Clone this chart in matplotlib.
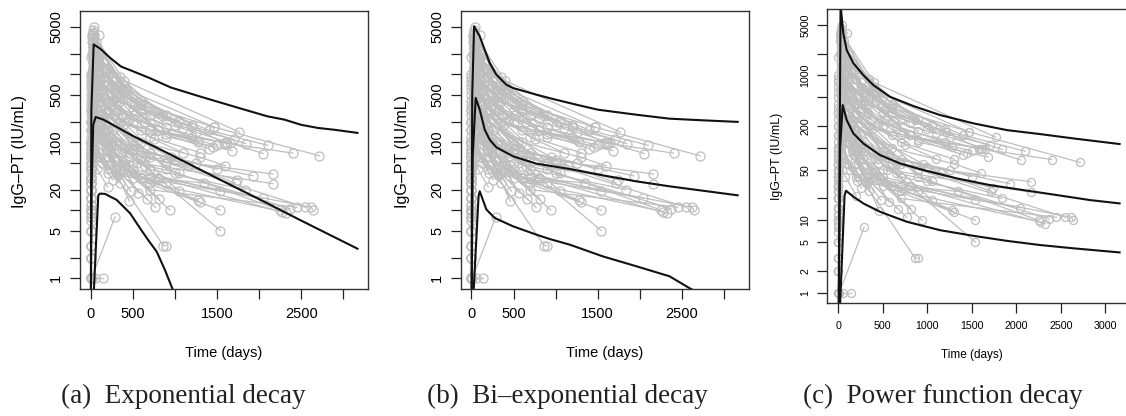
import numpy as np
import matplotlib.pyplot as plt
from matplotlib.ticker import NullLocator

plt.rcParams['font.family'] = ['Liberation Sans', 'DejaVu Sans']

# IgG-PT measurements per subject (days since vaccination, IU/mL)
subj_days = [
    [0, 30, 480, 1470, 2717], [0, 28, 350, 1600, 2400], [0, 35, 520, 1250, 2050],
    [0, 30, 600, 1842], [0, 25, 400, 1767], [0, 30, 420, 1470], [0, 32, 300, 1053],
    [0, 27, 250, 863], [0, 20, 430], [0, 45, 527], [0, 30, 500, 1208],
    [0, 30, 350, 1279], [0, 35, 380, 1620], [0, 30, 450, 1580], [0, 28, 600, 1650],
    [0, 30, 700, 2162], [0, 30, 550, 2162], [0, 30, 450, 1925], [0, 30, 700, 1834],
    [0, 30, 600, 2043], [0, 35, 500, 1720], [0, 30, 650, 1740], [0, 30, 500, 1540],
    [0, 30, 500, 1540], [0, 30, 300, 1540], [0, 30, 400, 1300], [0, 30, 600, 1280],
    [0, 30, 700, 2270], [0, 30, 800, 2320], [0, 35, 900, 2250], [0, 30, 1000, 2370],
    [0, 30, 700, 2450], [0, 30, 900, 2550], [0, 30, 800, 2620, 2640], [0, 30, 863, 895],
    [0, 12, 289], [0, 50, 143], [0, 30, 300], [0, 30, 180, 400], [0, 25, 200, 600],
    [0, 30, 250, 700], [0, 30, 300, 800], [0, 35, 220, 650, 1200], [0, 30, 330, 900, 1400],
    [0, 28, 270, 750, 1100], [0, 30, 200, 500, 1000], [0, 30, 250, 600, 1150],
    [0, 30, 150, 450, 900], [0, 30, 180, 500, 1050], [0, 30, 200, 400, 800],
    [0, 30, 220, 460], [0, 30, 240, 476], [0, 30, 280, 566], [0, 30, 300, 665],
    [0, 30, 350, 768], [0, 30, 380, 816], [0, 30, 400, 943], [0, 30, 500, 1050],
    [0, 30, 210, 700, 1350], [0, 30, 310, 900], [0, 30, 150, 600, 1400, 2100],
    [0, 20, 100, 500, 1200], [0, 40, 103], [0, 15, 60, 300], [0, 30, 1000, 1700],
    [0, 30, 800, 1500], [0, 30, 900, 1680], [0, 30, 600, 1300, 1600], [0, 30, 700, 1250],
    [0, 30, 950, 1500],
    [0, 30, 120, 350], [0, 25, 150, 400, 900], [0, 30, 100, 250, 600], [0, 30, 140, 300],
    [0, 30, 90, 200, 500], [0, 30, 110, 260], [0, 30, 130, 330, 700], [0, 30, 160, 380],
    [0, 30, 100, 220, 550], [0, 30, 120, 260, 520], [0, 30, 90, 200, 450],
    [0, 30, 140, 300, 650], [0, 30, 100, 240], [0, 30, 120, 280, 600], [0, 30, 150, 350],
    [0, 30, 100, 200], [0, 30, 130, 260], [0, 30, 110, 350, 900], [0, 30, 180, 420, 1100],
    [0, 30, 90, 300, 800], [0, 20, 70, 150], [0, 30, 60, 180], [0, 30, 100, 350],
    [0, 30, 80, 200], [0, 30, 200, 700, 1300], [0, 30, 250, 800, 1450],
]
subj_igg = [
    [40, 1500, 400, 166, 63], [80, 2500, 500, 97, 69], [20, 900, 250, 140, 68],
    [150, 3000, 300, 95], [300, 4000, 800, 141], [50, 2000, 600, 166], [10, 1200, 400, 208],
    [100, 1800, 700, 240], [200, 3800, 580], [30, 3500, 355], [60, 1000, 300, 166],
    [25, 700, 200, 102], [15, 600, 180, 97], [40, 800, 220, 97], [8, 500, 150, 97],
    [20, 400, 60, 34], [12, 300, 50, 24.5], [30, 450, 80, 32], [5, 250, 40, 20],
    [10, 150, 30, 15], [50, 600, 90, 25], [20, 350, 60, 28], [30, 300, 40, 19],
    [5, 200, 30, 10], [40, 1000, 100, 5], [15, 250, 40, 13], [20, 200, 30, 14],
    [3, 120, 25, 9.5], [10, 180, 30, 9], [20, 400, 40, 10], [30, 300, 35, 10.5],
    [15, 150, 20, 11], [40, 500, 50, 11], [25, 250, 30, 11, 10], [5, 100, 3, 3],
    [2, 1, 8], [1, 1, 1], [1, 60, 35], [100, 3000, 1200, 700], [200, 2500, 900, 300],
    [400, 2000, 700, 250], [150, 1500, 500, 150], [60, 1200, 400, 200, 120], [80, 900, 300, 130, 80],
    [30, 800, 250, 110, 70], [20, 600, 150, 80, 55], [10, 400, 100, 60, 45],
    [40, 300, 120, 70, 50], [15, 200, 80, 50, 35], [7, 150, 60, 40, 30],
    [60, 500, 60, 13.5], [25, 250, 50, 19], [50, 350, 70, 18], [20, 200, 40, 14.5],
    [30, 150, 35, 11], [10, 300, 45, 14.5], [40, 250, 40, 10], [100, 700, 80, 19],
    [2, 100, 35, 30, 25], [3, 80, 33, 25], [500, 4500, 1500, 400, 150, 90],
    [1000, 3500, 1800, 500, 180], [1800, 5000, 3800], [800, 2000, 1000, 450], [250, 2000, 180, 110],
    [60, 1200, 150, 90], [100, 900, 120, 75], [5, 400, 100, 60, 45], [2, 300, 70, 50],
    [30, 250, 60, 40],
    [300, 3500, 2000, 900], [150, 2800, 1500, 600, 250], [600, 2500, 1400, 800, 350], [50, 1800, 1100, 650],
    [20, 1500, 1000, 500, 200], [90, 1300, 800, 400], [35, 1100, 600, 300, 150], [12, 900, 450, 250],
    [45, 700, 400, 200, 100], [8, 600, 300, 150, 80], [25, 500, 250, 120, 60],
    [70, 450, 200, 90, 45], [5, 350, 150, 70], [15, 300, 120, 55, 30], [3, 250, 90, 40],
    [9, 180, 70, 40], [2, 120, 50, 28], [200, 1000, 700, 400, 170], [120, 1500, 900, 450, 160],
    [350, 2200, 1300, 600, 220], [700, 3000, 2500, 1500], [900, 4000, 3000, 1200], [1, 150, 60, 25],
    [1, 60, 40, 22], [40, 600, 300, 120, 70], [70, 900, 350, 150, 85],
]

# fitted curves
exp_hi_t = [0, 8, 35, 110, 230, 360, 500, 700, 950, 1300, 1700, 2100, 2300, 2500, 2700, 2900, 3168]
exp_hi_v = [0.1, 300, 2750, 2400, 1750, 1300, 1110, 880, 640, 470, 335, 240, 215, 180, 162, 152, 137]
exp_md_t = [0, 10, 30, 59, 150, 500, 1000, 1500, 2000, 2500, 3168]
exp_md_v = [0.1, 20, 180, 235, 215, 124, 61, 29.5, 14.5, 7.0, 2.7]
exp_lo_t = [25, 90, 110, 171, 309, 467, 586, 684, 784, 882, 980]
exp_lo_v = [0.3, 16.5, 17.5, 17.3, 14.1, 9.0, 5.4, 3.6, 2.44, 1.31, 0.65]

biexp_hi_t = [0, 10, 32, 99, 158, 217, 296, 415, 494, 771, 968, 1245, 1502, 1957, 2352, 2747, 3162]
biexp_hi_v = [0.1, 500, 5080, 3620, 2300, 1470, 988, 703, 628, 501, 433, 357, 301, 254, 222, 210, 199]
biexp_md_t = [0, 15, 51, 99, 158, 217, 296, 494, 771, 1166, 1561, 1957, 2352, 2747, 3162]
biexp_md_v = [0.1, 60, 448, 301, 153, 109, 84, 62, 48.3, 40.3, 32.5, 26.5, 22.4, 19.3, 16.5]
biexp_lo_t = [28, 85, 99, 178, 277, 494, 771, 929, 1166, 1561, 1957, 2352, 2589, 2700]
biexp_lo_v = [0.7, 16, 18.9, 10.2, 7.65, 5.77, 4.35, 3.75, 3.1, 2.08, 1.49, 1.06, 0.71, 0.6]

pow_hi_t = [0, 25, 56, 94, 169, 281, 394, 581, 844, 1144, 1519, 1894, 2269, 2644, 3161]
pow_hi_v = [0.1, 9500, 3800, 2240, 1480, 1011, 736, 508, 378, 284, 218, 176, 155, 135, 113]
pow_md_t = [0, 20, 49, 94, 169, 281, 469, 694, 956, 1331, 1706, 2081, 2456, 2831, 3161]
pow_md_v = [0.1, 100, 390, 242, 158, 115, 79.5, 61, 49.4, 37.9, 30.6, 26.1, 22.3, 19.0, 17.1]
pow_lo_t = [15, 70, 86, 169, 281, 469, 769, 1144, 1519, 1894, 2269, 2644, 3161]
pow_lo_v = [0.5, 22, 25.6, 21.2, 17.1, 13.1, 9.55, 7.3, 6.1, 5.2, 4.55, 4.1, 3.6]

y_ticks = [1, 2, 5, 10, 20, 50, 100, 200, 500, 1000, 2000, 5000]
ab_ylabels = ['1', '', '5', '', '20', '', '100', '', '500', '', '', '5000']
c_ylabels = ['1', '2', '5', '10', '', '50', '', '200', '', '1000', '', '5000']
x_ticks = [0, 500, 1000, 1500, 2000, 2500, 3000]
ab_xlabels = ['0', '500', '', '1500', '', '2500', '']
c_xlabels = ['0', '500', '1000', '1500', '2000', '2500', '3000']

W, H = 1126, 416
fig = plt.figure(figsize=(W / 100, H / 100), dpi=100)


def px_axes(left, top, right, bottom):
    return fig.add_axes([left / W, 1 - bottom / H, (right - left) / W, (bottom - top) / H])


def panel(ax, curves, xlim, ylim, ylabels, xlabels, fs, ms):
    for d, v in zip(subj_days, subj_igg):
        ax.plot(d, v, color='#BEBEBE', lw=0.9, marker='o', ms=ms, mfc='none',
                mec='#BEBEBE', mew=0.9)
    for t, v in curves:
        ax.plot(t, v, color='#111111', lw=1.5)
    ax.set_yscale('log')
    ax.set_xlim(*xlim)
    ax.set_ylim(*ylim)
    ax.set_yticks(y_ticks)
    ax.set_yticklabels(ylabels, rotation=90, va='center', fontsize=fs)
    ax.yaxis.set_minor_locator(NullLocator())
    ax.set_xticks(x_ticks)
    ax.set_xticklabels(xlabels, fontsize=fs)
    ax.tick_params(length=7, width=0.9, color='#222222', direction='out')
    ax.tick_params(axis='x', pad=6)
    ax.tick_params(axis='y', pad=5)
    for s in ax.spines.values():
        s.set_color('#333333')
        s.set_linewidth(1.0)


ax_a = px_axes(80, 11, 368, 288.5)
panel(ax_a, [(exp_hi_t, exp_hi_v), (exp_md_t, exp_md_v), (exp_lo_t, exp_lo_v)],
      (-127, 3293), (0.70, 8550), ab_ylabels, ab_xlabels, 10.5, 6.5)

ax_b = px_axes(460.7, 11, 748.7, 288.5)
panel(ax_b, [(biexp_hi_t, biexp_hi_v), (biexp_md_t, biexp_md_v), (biexp_lo_t, biexp_lo_v)],
      (-127, 3293), (0.70, 8550), ab_ylabels, ab_xlabels, 10.5, 6.5)

ax_c = px_axes(827.3, 9, 1131.1, 303.3)
panel(ax_c, [(pow_hi_t, pow_hi_v), (pow_md_t, pow_md_v), (pow_lo_t, pow_lo_v)],
      (-124, 3290), (0.714, 8280), c_ylabels, c_xlabels, 7.7, 5.8)

# axis titles
for x, y, fs in [(224, 353, 10.5), (604.7, 353, 10.5)]:
    fig.text(x / W, 1 - y / H, 'Time (days)', ha='center', va='center', fontsize=fs)
fig.text(972 / W, 1 - 355 / H, 'Time (days)', ha='center', va='center', fontsize=8.5)
fig.text(20 / W, 1 - 152 / H, 'IgG–PT (IU/mL)', ha='center', va='center', rotation=90, fontsize=11.5)
fig.text(403 / W, 1 - 152 / H, 'IgG–PT (IU/mL)', ha='center', va='center', rotation=90, fontsize=11.5)
fig.text(777 / W, 1 - 156 / H, 'IgG–PT (IU/mL)', ha='center', va='center', rotation=90, fontsize=8.9)

# sub-captions
caps = [(183, '(a)  Exponential decay'), (567, '(b)  Bi–exponential decay'),
        (943, '(c)  Power function decay')]
for x, txt in caps:
    fig.text(x / W, 1 - 403 / H, txt, ha='center', va='baseline',
             family=['Liberation Serif', 'DejaVu Serif'], fontsize=19.5, color='#222222')

fig.savefig('out.png', dpi=100)
